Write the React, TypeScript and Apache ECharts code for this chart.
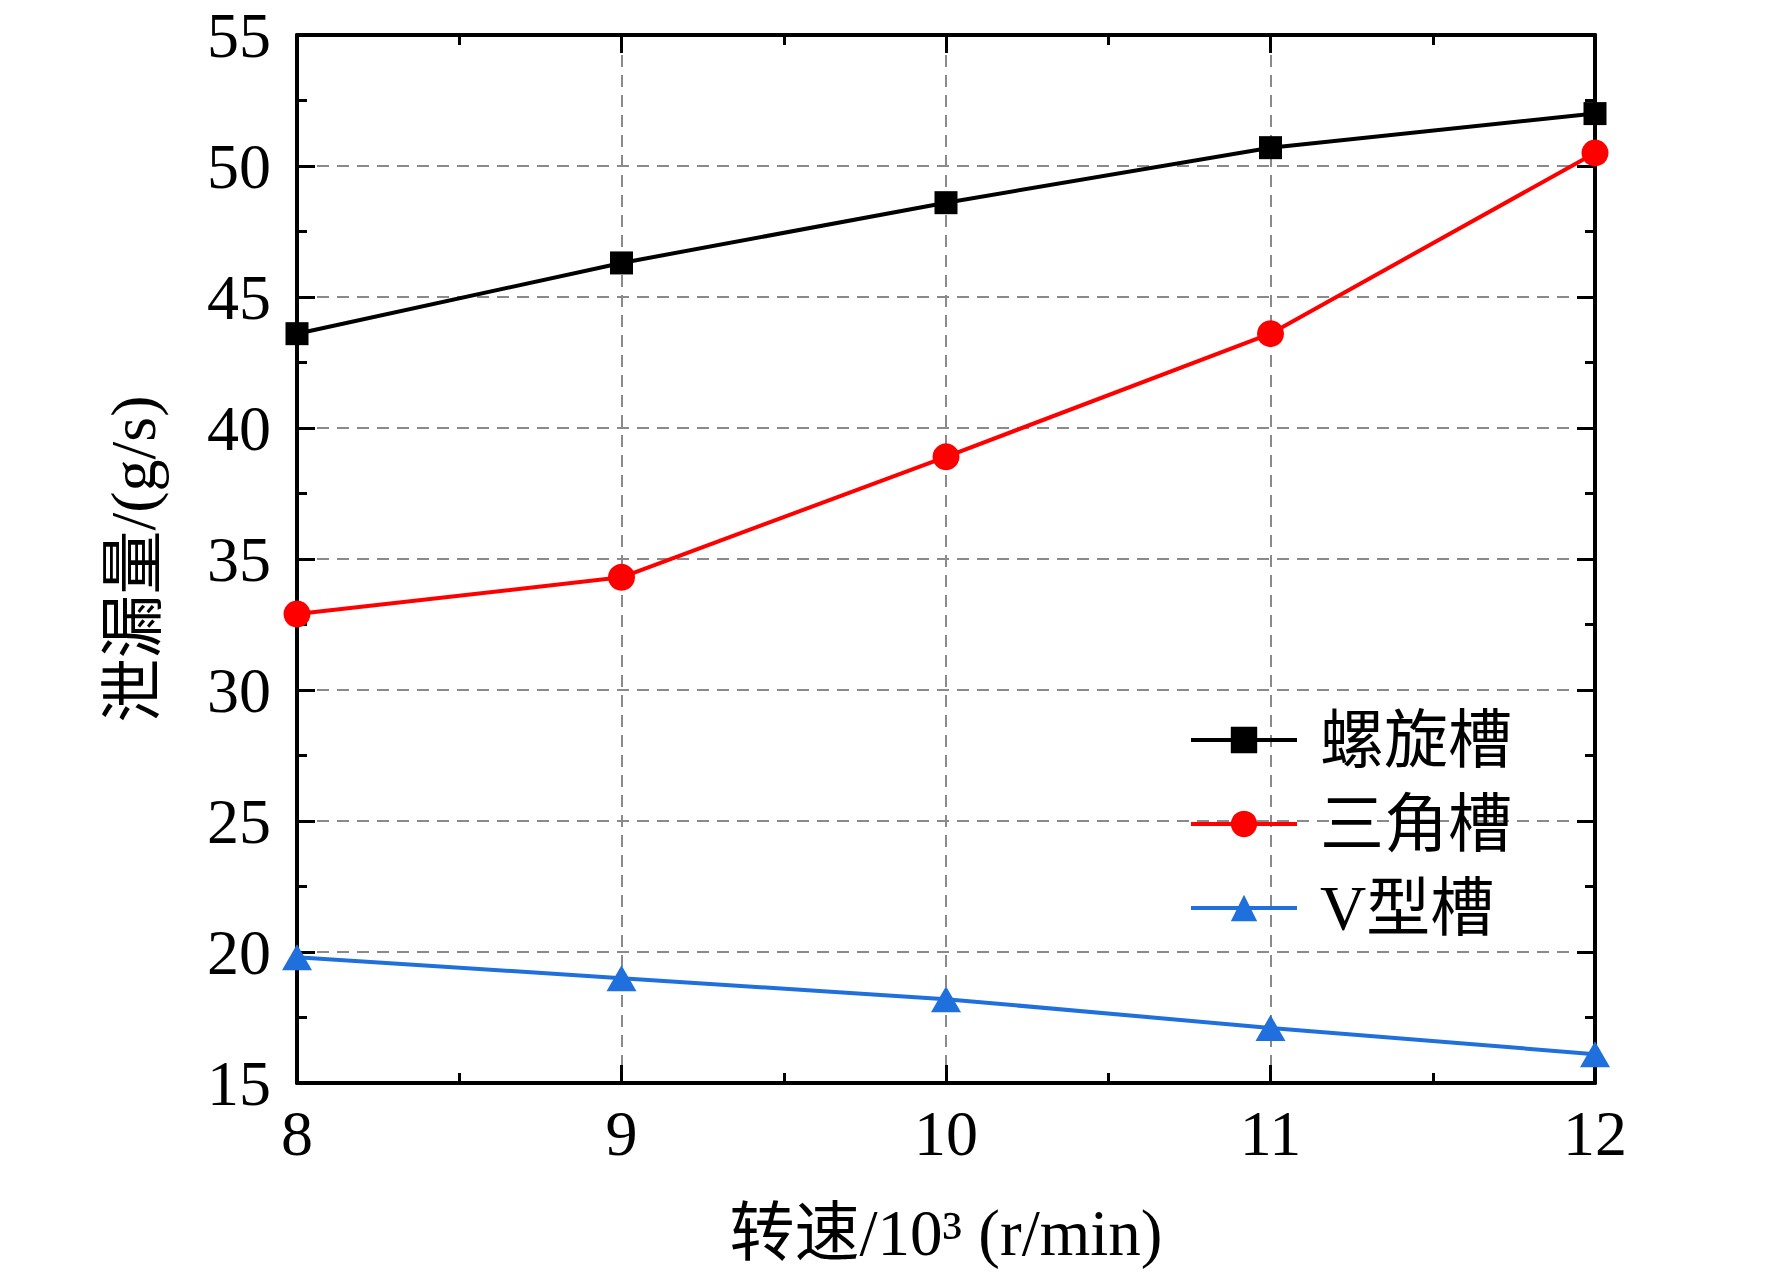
import React, { useEffect, useRef } from "react";
import * as echarts from "echarts";

const speeds = [8, 9, 10, 11, 12];
const spiralGroove = [43.6, 46.3, 48.6, 50.7, 52.0];
const triangleGroove = [32.9, 34.3, 38.9, 43.6, 50.5];
const vGroove = [19.8, 19.0, 18.2, 17.1, 16.1];
const seriesNames = ["螺旋槽", "三角槽", "V型槽"];
const xAxisName = "转速/10³ (r/min)";
const yAxisName = "泄漏量/(g/s)";

const FONT = "'Liberation Serif', 'Times New Roman', 'Noto Sans CJK SC', serif";

export default function App() {
  const ref = useRef<HTMLDivElement>(null);
  useEffect(() => {
    if (!ref.current) return;
    const chart = echarts.init(ref.current, undefined, { renderer: "svg" });
    const axisLine = { show: true, onZero: false, lineStyle: { color: "#000", width: 4 } };
    const axisTick = { show: true, inside: true, length: 18, lineStyle: { color: "#000", width: 3 } };
    const minorTick = { show: true, splitNumber: 2, length: 10, lineStyle: { color: "#000", width: 3 } };
    const gridLine = { show: true, lineStyle: { color: "#8a8a8a", width: 2, type: [12, 8] as any } };
    const mk = (data: number[]) => speeds.map((s, i) => [s, data[i]]);
    chart.setOption({
      animation: false,
      backgroundColor: "#fff",
      grid: { left: 297, right: 177, top: 35, bottom: 193, containLabel: false },
      xAxis: [
        {
          type: "value",
          min: 8,
          max: 12,
          interval: 1,
          position: "bottom",
          axisLine,
          axisTick,
          minorTick,
          splitLine: gridLine,
          axisLabel: { margin: 18, fontSize: 64, color: "#000", fontFamily: FONT },
          name: xAxisName,
          nameLocation: "middle",
          nameGap: 117,
          nameTextStyle: { fontSize: 65, color: "#000", fontFamily: FONT },
        },
        {
          type: "value",
          min: 8,
          max: 12,
          interval: 1,
          position: "top",
          axisLine,
          axisTick,
          minorTick,
          splitLine: { show: false },
          axisLabel: { show: false },
        },
      ],
      yAxis: [
        {
          type: "value",
          min: 15,
          max: 55,
          interval: 5,
          position: "left",
          axisLine,
          axisTick,
          minorTick,
          splitLine: gridLine,
          axisLabel: { margin: 26, fontSize: 64, color: "#000", fontFamily: FONT },
          name: yAxisName,
          nameLocation: "middle",
          nameGap: 132,
          nameTextStyle: { fontSize: 64, color: "#000", fontFamily: FONT },
        },
        {
          type: "value",
          min: 15,
          max: 55,
          interval: 5,
          position: "right",
          axisLine,
          axisTick,
          minorTick,
          splitLine: { show: false },
          axisLabel: { show: false },
        },
      ],
      legend: {
        orient: "vertical",
        left: 1189,
        top: 708,
        padding: 0,
        itemWidth: 106,
        itemHeight: 33,
        itemGap: 20,
        lineStyle: { width: 4 },
        textStyle: { fontSize: 64, color: "#000", fontFamily: FONT, lineHeight: 64, padding: [0, 0, 0, 18] },
        data: seriesNames,
      },
      series: [
        {
          name: seriesNames[0],
          type: "line",
          data: mk(spiralGroove),
          symbol: "rect",
          symbolSize: 23,
          itemStyle: { color: "#000000" },
          lineStyle: { color: "#000000", width: 4 },
          z: 3,
        },
        {
          name: seriesNames[1],
          type: "line",
          data: mk(triangleGroove),
          symbol: "circle",
          symbolSize: 27,
          itemStyle: { color: "#ff0000" },
          lineStyle: { color: "#ff0000", width: 4 },
          z: 3,
        },
        {
          name: seriesNames[2],
          type: "line",
          data: mk(vGroove),
          symbol: "triangle",
          symbolSize: [30, 26],
          itemStyle: { color: "#1f6fdc" },
          lineStyle: { color: "#1f6fdc", width: 4 },
          z: 3,
        },
      ],
    });
    return () => chart.dispose();
  }, []);
  return (
    <div
      ref={ref}
      style={{ position: "fixed", left: 0, top: 0, width: 1772, height: 1276, background: "#fff" }}
    />
  );
}
